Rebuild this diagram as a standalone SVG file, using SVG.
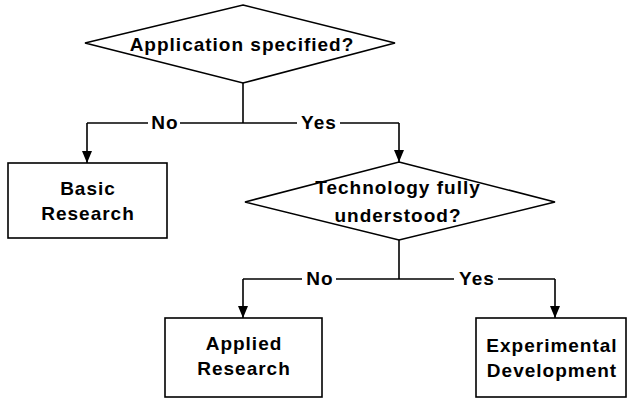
<svg xmlns="http://www.w3.org/2000/svg" width="627" height="399" viewBox="0 0 627 399">
  <style>
    .shape { fill: #ffffff; stroke: #000000; stroke-width: 1.6; }
    .wire { fill: none; stroke: #000000; stroke-width: 1.6; }
    .txt { font-family: "Liberation Sans", Arial, sans-serif; font-weight: bold; font-size: 19px; letter-spacing: 1px; fill: #000000; text-anchor: middle; }
    .lbg { fill: #ffffff; }
  </style>
  <defs>
    <!-- filled arrowhead, drawn along +x and rotated to the line direction -->
    <marker id="arrow" viewBox="0 0 12 10" refX="12" refY="5" markerWidth="12" markerHeight="10" markerUnits="userSpaceOnUse" orient="auto">
      <path d="M0,0 L12,5 L0,10 Z" fill="#000000"/>
    </marker>
  </defs>
  <rect width="627" height="399" fill="#ffffff"/>

  <!-- connectors -->
  <g id="connectors">
    <path class="wire" d="M243,83 V123"/>
    <path class="wire" d="M87,123 H399"/>
    <path class="wire" d="M87,123 V163" marker-end="url(#arrow)"/>
    <path class="wire" d="M399,123 V162" marker-end="url(#arrow)"/>
    <path class="wire" d="M399,240 V279"/>
    <path class="wire" d="M243,279 H555"/>
    <path class="wire" d="M243,279 V318" marker-end="url(#arrow)"/>
    <path class="wire" d="M555,279 V318" marker-end="url(#arrow)"/>
    <!-- branch labels -->
    <rect class="lbg" x="148" y="114" width="32" height="18"/>
    <text class="txt" x="165" y="129">No</text>
    <rect class="lbg" x="297" y="114" width="43" height="18"/>
    <text class="txt" x="319" y="129">Yes</text>
    <rect class="lbg" x="302" y="270" width="34" height="18"/>
    <text class="txt" x="320" y="285">No</text>
    <rect class="lbg" x="454" y="270" width="44" height="18"/>
    <text class="txt" x="477" y="285">Yes</text>
  </g>

  <g id="decision-application">
    <polygon class="shape" points="243,5 395,43 243,83 85,43"/>
    <text class="txt" x="242" y="51">Application specified?</text>
  </g>

  <g id="basic-research">
    <rect class="shape" x="8" y="163" width="159" height="75"/>
    <text class="txt" x="88" y="195">Basic</text>
    <text class="txt" x="88" y="220">Research</text>
  </g>

  <g id="decision-technology">
    <polygon class="shape" points="399,162 555,202 399,240 245,202"/>
    <text class="txt" x="398" y="194">Technology fully</text>
    <text class="txt" x="398" y="222">understood?</text>
  </g>

  <g id="applied-research">
    <rect class="shape" x="165" y="318" width="157" height="79"/>
    <text class="txt" x="244" y="350">Applied</text>
    <text class="txt" x="244" y="375">Research</text>
  </g>

  <g id="experimental-development">
    <rect class="shape" x="476" y="318" width="150" height="79"/>
    <text class="txt" x="552" y="352">Experimental</text>
    <text class="txt" x="552" y="377">Development</text>
  </g>
</svg>
